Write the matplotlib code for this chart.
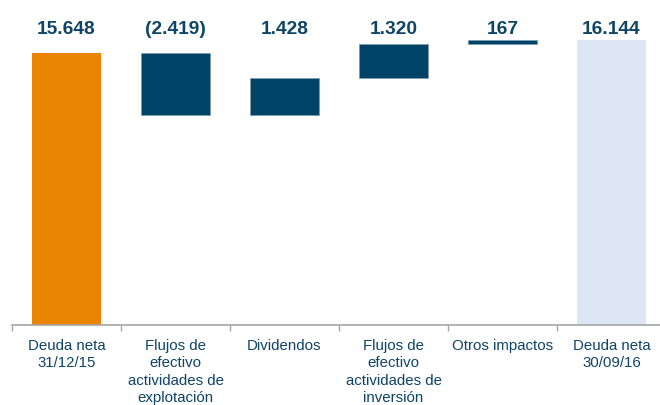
import matplotlib
matplotlib.use("Agg")
import matplotlib.pyplot as plt
import matplotlib.transforms as mtransforms

categories = ["Deuda neta\n31/12/15", "Flujos de\nefectivo\nactividades de\nexplotación",
              "Dividendos", "Flujos de\nefectivo\nactividades de\ninversión",
              "Otros impactos", "Deuda neta\n30/09/16"]
start_value = 15648
changes = [-2419, 1428, 1320, 167]
end_value = 16144
value_labels = ["15.648", "(2.419)", "1.428", "1.320", "167", "16.144"]

orange = "#E98300"
navy = "#014366"
light = "#DCE6F2"
text_color = "#0E4466"

fig = plt.figure(figsize=(6.6, 4.05), dpi=100)
ax = fig.add_axes([12/660, 80/405, 654/660, 310/405])
plt.rcParams['font.family'] = ['Liberation Sans', 'DejaVu Sans']

ymin = 5050
width = 0.64

# start bar
ax.bar(0, start_value - ymin, bottom=ymin, width=width, color=orange, linewidth=0)
# intermediate bars
cum = start_value
for i, c in enumerate(changes, start=1):
    lo = min(cum, cum + c)
    ax.bar(i, abs(c), bottom=lo, width=width, color=navy,
           edgecolor="#7f9bb3", linewidth=0.6)
    cum += c
# end bar
ax.bar(5, end_value - ymin, bottom=ymin, width=width, color=light, linewidth=0)

ax.set_xlim(-0.5, 5.5)
ax.set_ylim(ymin, ymin + 38.9 * 310)

trans = mtransforms.blended_transform_factory(ax.transData, fig.transFigure)
for i, lab in enumerate(value_labels):
    ax.text(i, 1 - 33.5/405, lab, transform=trans, ha="center", va="baseline",
            fontsize=13.8, fontweight="bold", color=text_color,
            family=['Liberation Sans', 'DejaVu Sans'])

for s in ["top", "right", "left"]:
    ax.spines[s].set_visible(False)
ax.spines["bottom"].set_color("#A6A6A6")
ax.spines["bottom"].set_linewidth(1.2)
ax.set_yticks([])
ax.set_xticks([i + 0.5 for i in range(-1, 6)], minor=False)
ax.set_xticklabels([])
ax.tick_params(axis="x", which="major", length=4, color="#A6A6A6", width=1)
ax.set_xticks(range(6), minor=True)
ax.set_xticklabels(categories, minor=True, fontsize=10.8, color=text_color,
                   linespacing=1.32, family=['Liberation Sans', 'DejaVu Sans'])
ax.tick_params(axis="x", which="minor", length=0, pad=10)

fig.savefig("out.png", dpi=100)
